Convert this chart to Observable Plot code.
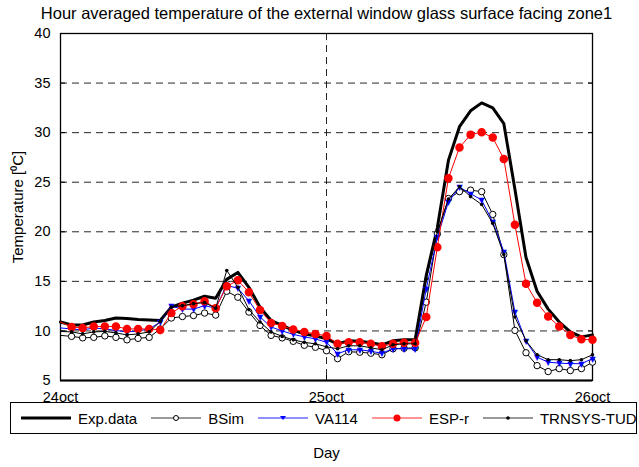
<!DOCTYPE html>
<html>
<head>
<meta charset="utf-8">
<script src="https://cdn.jsdelivr.net/npm/d3@7"></script>
<script src="https://cdn.jsdelivr.net/npm/@observablehq/plot@0.6"></script>
<style>
  body { margin: 0; background: #fff; font-family: "Liberation Sans", Arial, sans-serif; }
  #wrap { position: relative; width: 639px; height: 467px; }
  #legend { position: absolute; left: 10px; top: 402px; width: 627px; height: 32px; box-sizing: border-box;
            border: 1px solid #000; display: flex; align-items: center; padding-left: 10px; font-size: 15px; color: #000; background: transparent; }
  .item { display: flex; align-items: center; margin-right: 14px; white-space: nowrap; }
  .item svg { margin-right: 7px; }
</style>
</head>
<body>
<div id="wrap"></div>
<script>
// ---- data ----
const hours = d3.range(0, 49);               // hours after 24 Oct 00:00
const tickHours = [0, 24, 48];
const tickLabels = ["24oct", "25oct", "26oct"];
const yTicks = [5, 10, 15, 20, 25, 30, 35, 40];
const seriesNames = ["Exp.data", "BSim", "VA114", "ESP-r", "TRNSYS-TUD"];

const expData = [10.9, 10.6, 10.6, 10.9, 11.05, 11.3, 11.25, 11.15, 11.1, 11.05,
  12.4, 12.8, 13.1, 13.5, 13.3, 15.2, 15.9, 14.4, 12.4, 11.05,
  10.55, 10.05, 9.7, 9.5, 9.2, 8.7, 9.0, 8.95, 8.8, 8.6,
  9.0, 9.1, 9.1, 15.6, 20.4, 27.2, 30.6, 32.2, 33.0, 32.5,
  30.9, 24.3, 17.4, 14.0, 12.2, 10.9, 9.9, 9.4, 9.6];
const bsim = [9.55, 9.45, 9.3, 9.35, 9.5, 9.35, 9.1, 9.25, 9.35, 10.2,
  11.3, 11.45, 11.55, 11.8, 11.6, 14.0, 13.4, 11.9, 10.55, 9.55,
  9.3, 8.95, 8.55, 8.35, 8.0, 7.2, 7.9, 7.85, 7.75, 7.6,
  8.2, 8.25, 8.3, 12.9, 19.8, 23.35, 24.05, 24.2, 24.05, 21.75,
  17.7, 10.05, 7.8, 6.5, 5.9, 6.2, 6.0, 6.2, 6.85];
const va114 = [10.3, 10.2, 10.1, 10.3, 10.2, 10.05, 9.9, 10.0, 10.2, 10.9,
  12.5, 12.2, 12.2, 12.55, 12.3, 14.6, 14.3, 13.05, 11.4, 10.4,
  10.0, 9.65, 9.4, 9.2, 8.85, 7.7, 8.1, 8.1, 7.95, 7.75,
  8.2, 8.2, 8.2, 14.25, 19.45, 23.0, 24.5, 23.85, 23.2, 21.0,
  18.0, 11.9, 8.95, 7.35, 6.85, 6.75, 6.7, 6.7, 7.2];
const espr = [10.9, 10.4, 10.3, 10.45, 10.45, 10.45, 10.2, 10.2, 10.2, 10.1,
  11.8, 12.5, 12.7, 13.0, 12.3, 14.5, 15.1, 13.9, 12.1, 10.8,
  10.5, 10.15, 9.9, 9.7, 9.5, 8.7, 8.85, 8.85, 8.7, 8.45,
  8.7, 8.8, 8.8, 11.4, 18.45, 25.4, 28.5, 29.8, 30.05, 29.5,
  27.35, 20.7, 14.75, 12.85, 11.45, 10.45, 9.6, 9.15, 9.1];
const trnsys = [9.95, 9.9, 9.7, 9.9, 9.95, 9.8, 9.6, 9.7, 9.9, 10.95,
  12.4, 12.55, 12.75, 12.85, 12.3, 16.1, 14.4, 12.15, 10.9, 9.9,
  9.45, 9.1, 8.85, 8.7, 8.4, 8.2, 8.5, 8.5, 8.3, 8.1,
  8.6, 8.7, 8.7, 15.25, 20.0, 23.3, 24.55, 23.55, 22.75, 20.85,
  17.7, 11.4, 9.0, 7.6, 7.1, 7.1, 7.0, 7.1, 7.6];

// ---- tables ----
const rows = (vals) => hours.map((h, i) => ({h, v: vals[i]}));
const markerRows = (vals) => rows(vals).filter(d => d.h >= 1);

const font = '"Liberation Sans", Arial, sans-serif';

const chart = Plot.plot({
  width: 639,
  height: 467,
  marginLeft: 60,
  marginRight: 47,
  marginTop: 33,
  marginBottom: 87,
  style: {fontFamily: font, fontSize: "14px", color: "#000", background: "#fff", overflow: "visible"},
  x: {domain: [0, 48], ticks: tickHours, tickFormat: (d) => tickLabels[tickHours.indexOf(d)], label: null},
  y: {domain: [5, 40], ticks: yTicks, label: null},
  marks: [
    Plot.ruleY(yTicks.slice(1, -1), {stroke: "#000", strokeWidth: 1, strokeDasharray: "7,5", strokeOpacity: 0.85}),
    Plot.ruleX([24], {stroke: "#000", strokeWidth: 1, strokeDasharray: "7,5", strokeOpacity: 0.85}),
    Plot.axisY({ticks: yTicks, tickSize: -5, tickPadding: 15, fontSize: 14.5}),
    Plot.axisY({ticks: yTicks, anchor: "right", tickSize: -5, tickFormat: () => ""}),
    Plot.axisX({ticks: tickHours, tickFormat: (d) => tickLabels[tickHours.indexOf(d)], tickSize: -5, tickPadding: 16, fontSize: 14.5}),
    Plot.frame({stroke: "#000", strokeWidth: 1.3}),
    Plot.ruleY([5], {stroke: "#000", strokeWidth: 2}),
    // Exp.data
    Plot.line(rows(expData), {x: "h", y: "v", stroke: "#000", strokeWidth: 3}),
    // BSim
    Plot.line(rows(bsim), {x: "h", y: "v", stroke: "#000", strokeWidth: 1}),
    Plot.dot(markerRows(bsim), {x: "h", y: "v", r: 3.2, fill: "#fff", stroke: "#000", strokeWidth: 1}),
    // VA114
    Plot.line(rows(va114), {x: "h", y: "v", stroke: "#0000ff", strokeWidth: 1}),
    Plot.text(markerRows(va114), {x: "h", y: "v", text: () => "\u25BC", fill: "#0000ff", fontSize: 8, fontFamily: "DejaVu Sans", dy: 0.5}),
    // ESP-r
    Plot.line(rows(espr), {x: "h", y: "v", stroke: "#ff0000", strokeWidth: 1}),
    Plot.dot(markerRows(espr), {x: "h", y: "v", r: 3.5, fill: "#ff0000", stroke: "#ff0000"}),
    // TRNSYS-TUD
    Plot.line(rows(trnsys), {x: "h", y: "v", stroke: "#000", strokeWidth: 1}),
    Plot.dot(markerRows(trnsys), {x: "h", y: "v", r: 1.8, fill: "#000"}),
    // texts
    Plot.text(["Hour averaged temperature of the external window glass surface facing zone1"],
      {frameAnchor: "top", dy: -20, text: (d) => d, fontSize: 16.5, lineAnchor: "middle"}),
    Plot.text(["Day"], {frameAnchor: "bottom", dy: 73, text: (d) => d, fontSize: 15, lineAnchor: "middle"}),
    Plot.text(["Temperature [\u2070C]"], {frameAnchor: "left", dx: -42, rotate: -90, text: (d) => d, fontSize: 15, textAnchor: "middle", lineAnchor: "middle"})
  ]
});

const wrap = document.getElementById("wrap");
wrap.appendChild(chart);

// ---- legend (HTML) ----
const legendSpec = [
  {name: seriesNames[0], color: "#000", width: 3, marker: null},
  {name: seriesNames[1], color: "#777", width: 1.5, marker: "open"},
  {name: seriesNames[2], color: "#6a6aff", width: 1.5, marker: "tri"},
  {name: seriesNames[3], color: "#ff7070", width: 1.5, marker: "red"},
  {name: seriesNames[4], color: "#777", width: 1.5, marker: "dot"}
];
const legend = document.createElement("div");
legend.id = "legend";
for (const s of legendSpec) {
  const item = document.createElement("div");
  item.className = "item";
  let m = "";
  if (s.marker === "open") m = '<circle cx="25" cy="8" r="2.5" fill="#fff" stroke="#000" stroke-width="1"/>';
  if (s.marker === "tri") m = '<path d="M22,6 L28,6 L25,10 Z" fill="#0000ff"/>';
  if (s.marker === "red") m = '<circle cx="25" cy="8" r="3.5" fill="#ff0000"/>';
  if (s.marker === "dot") m = '<circle cx="25" cy="8" r="1.8" fill="#000"/>';
  item.innerHTML = `<svg width="50" height="16"><line x1="0" y1="8" x2="50" y2="8" stroke="${s.color}" stroke-width="${s.width}"/>${m}</svg><span>${s.name}</span>`;
  legend.appendChild(item);
}
wrap.appendChild(legend);
</script>
</body>
</html>
